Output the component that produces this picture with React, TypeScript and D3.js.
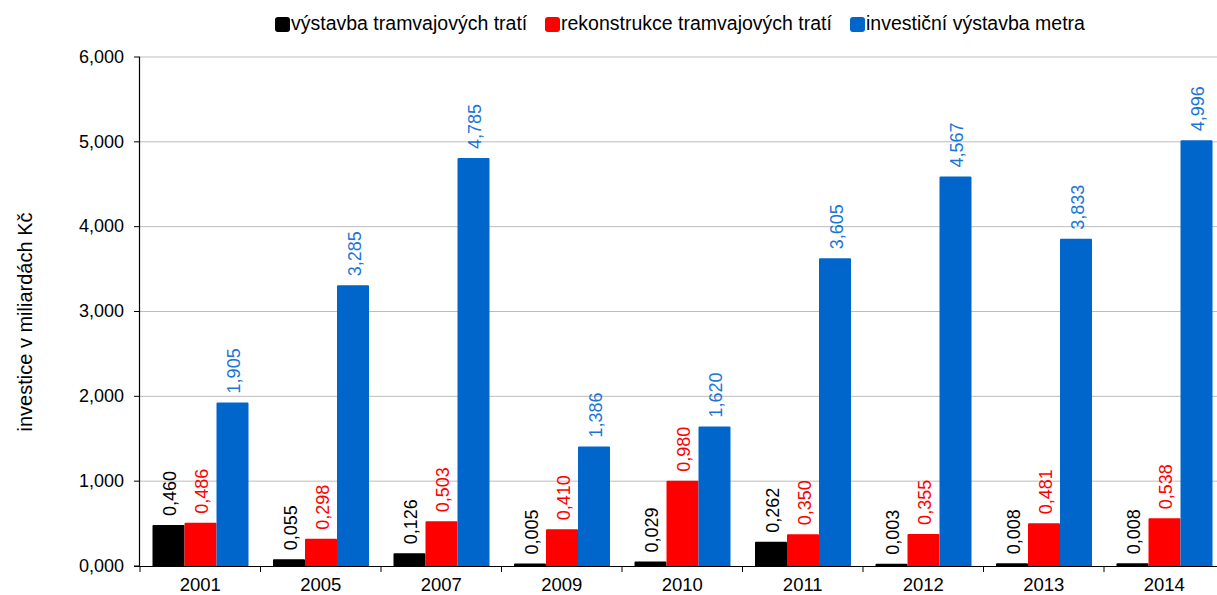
import React from 'react';
import * as d3 from 'd3';

const years = ['2001', '2005', '2007', '2009', '2010', '2011', '2012', '2013', '2014'];
const tramBuild = [0.46, 0.055, 0.126, 0.005, 0.029, 0.262, 0.003, 0.008, 0.008];
const tramRecon = [0.486, 0.298, 0.503, 0.41, 0.98, 0.35, 0.355, 0.481, 0.538];
const metro = [1.905, 3.285, 4.785, 1.386, 1.62, 3.605, 4.567, 3.833, 4.996];
const yTicks = [0, 1, 2, 3, 4, 5, 6];

const seriesNames = ['výstavba tramvajových tratí', 'rekonstrukce tramvajových tratí', 'investiční výstavba metra'];
const barColors = ['#000000', '#ff0000', '#0066cc'];
const labelColors = ['#000000', '#ff0000', '#1a75d6'];

const W = 1217;
const H = 595;
const font = 'Liberation Sans, Arial, sans-serif';

const fmt = (v: number) => d3.format('.3f')(v).replace('.', ',');

const App = () => {
  const series = [tramBuild, tramRecon, metro];
  const x = d3.scaleBand().domain(years).range([140, 1224.5]).paddingInner(0).paddingOuter(0);
  const inner = d3.scaleBand().domain(['0', '1', '2']).range([12.5, x.bandwidth() - 12]);
  const y = d3.scaleLinear().domain([0, 6]).range([566, 57]);

  return (
    <svg width={W} height={H} style={{ display: 'block', position: 'absolute', left: 0, top: 0 }} fontFamily={font}>
      <rect width={W} height={H} fill="#fff" />
      {/* grid */}
      {yTicks.slice(1).map(t => (
        <line key={t} x1={140} x2={W} y1={y(t)} y2={y(t)} stroke="#bdbdbd" strokeWidth={1} />
      ))}
      {/* bars */}
      {series.map((vals, si) =>
        vals.map((v, i) => {
          const bx = (x(years[i]) as number) + (inner(String(si)) as number);
          const bw = inner.bandwidth();
          return (
            <rect key={`${si}-${i}`} x={bx + 1} y={y(v) - 1} width={bw - 2} height={Math.max(0, y(0) - y(v) + 1)}
              fill={barColors[si]} stroke={barColors[si]} strokeWidth={2} strokeLinejoin="round" />
          );
        })
      )}
      {/* value labels */}
      {series.map((vals, si) =>
        vals.map((v, i) => {
          const cx = (x(years[i]) as number) + (inner(String(si)) as number) + inner.bandwidth() / 2 + 3;
          const ty = y(v) - 11;
          return (
            <text key={`l${si}-${i}`} transform={`translate(${cx},${ty}) rotate(-90)`} fontSize={18}
              fill={labelColors[si]} dominantBaseline="middle" textAnchor="start">{fmt(v)}</text>
          );
        })
      )}
      {/* axes */}
      <line x1={139.5} x2={139.5} y1={57} y2={566} stroke="#000" strokeWidth={1.2} />
      {yTicks.map(t => (
        <g key={t}>
          <line x1={134} x2={140} y1={y(t)} y2={y(t)} stroke="#000" strokeWidth={1} />
          <text x={124} y={y(t) + 1} textAnchor="end" dominantBaseline="middle" fontSize={18} fill="#000">{fmt(t)}</text>
        </g>
      ))}
      <line x1={134} x2={W} y1={566.5} y2={566.5} stroke="#000" strokeWidth={1.2} />
      {years.map((yr, i) => (
        <g key={yr}>
          <line x1={(x(yr) as number)} x2={(x(yr) as number)} y1={566} y2={572} stroke="#000" strokeWidth={1} />
          <text x={(x(yr) as number) + x.bandwidth() / 2} y={586} textAnchor="middle" dominantBaseline="middle" fontSize={18.5} fill="#000">{yr}</text>
        </g>
      ))}
      <text transform={`translate(27,322) rotate(-90)`} textAnchor="middle" dominantBaseline="middle" fontSize={20} fill="#000">
        investice v miliardách Kč
      </text>
      {/* legend */}
      {[275, 545, 850].map((lx, i) => (
        <g key={i}>
          <rect x={lx} y={17} width={15} height={15} rx={3} fill={barColors[i]} />
          <text x={lx + 16} y={25} dominantBaseline="middle" fontSize={19.5} fill="#000">{seriesNames[i]}</text>
        </g>
      ))}
    </svg>
  );
};

export default App;
